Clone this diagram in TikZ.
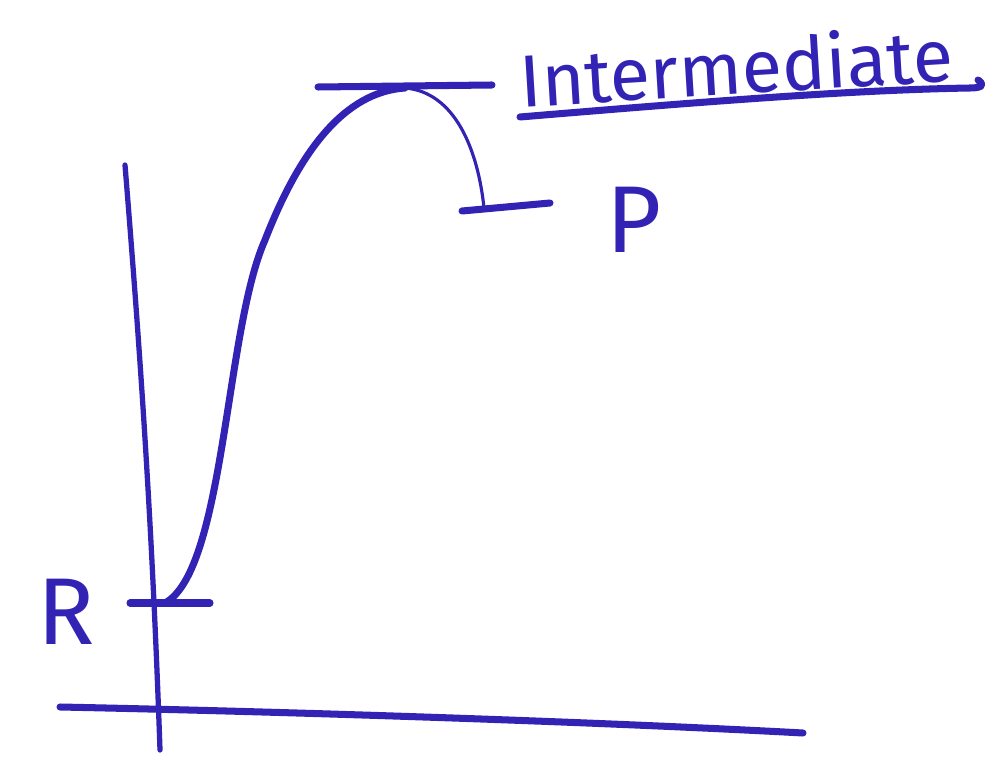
\documentclass[tikz,border=0pt]{standalone}
\usepackage{fontspec}
\setmainfont{Fira Sans}
\usetikzlibrary{calc}
\definecolor{pen}{RGB}{50,35,180}

\begin{document}
\begin{tikzpicture}[x=0.02cm,y=-0.02cm,
  ink/.style={draw=pen,line width=4pt,line cap=round,line join=round},
  thinink/.style={draw=pen,line width=1.8pt,line cap=round},
  hand/.style={text=pen,font=\fontsize{54}{60}\selectfont}]
\useasboundingbox (0,0) rectangle (995,770);

% Axes
\draw[ink,line width=3pt] (125,165) .. controls (140,350) and (152,520) .. (160,750);
\draw[ink] (60,707) .. controls (300,712) and (600,722) .. (803,733);

% Energy levels
\coordinate (rlow) at (130,603);
\coordinate (rhigh) at (210,603);
\coordinate (tlow) at (318,87);
\coordinate (thigh) at (492,85);
\coordinate (plow) at (462,211);
\coordinate (phigh) at (550,203);
\draw[ink] (rlow) -- (rhigh);
\draw[ink] (tlow) -- (thigh);
\draw[ink] (plow) -- (phigh);

% Reaction path
\coordinate (peak) at (405,88);
\draw[ink] (165,603) .. controls (225,570) and (225,330) .. (265,240)
           .. controls (300,150) and (345,92) .. (peak);
\draw[thinink] (peak) .. controls (455,92) and (478,150) .. (484,208);

% Labels
\node[hand] (rlab) at (66,612) {R};
\node[hand] (plab) at (634,220) {P};
\node[hand,font=\fontsize{42}{48}\selectfont,rotate=3.5] (ilab) at (736,66) {Intermediate};
\draw[ink] (520,117) .. controls (700,102) and (850,90) .. (970,88)
           .. controls (984,88) and (984,84) .. (978,80);
\end{tikzpicture}
\end{document}
